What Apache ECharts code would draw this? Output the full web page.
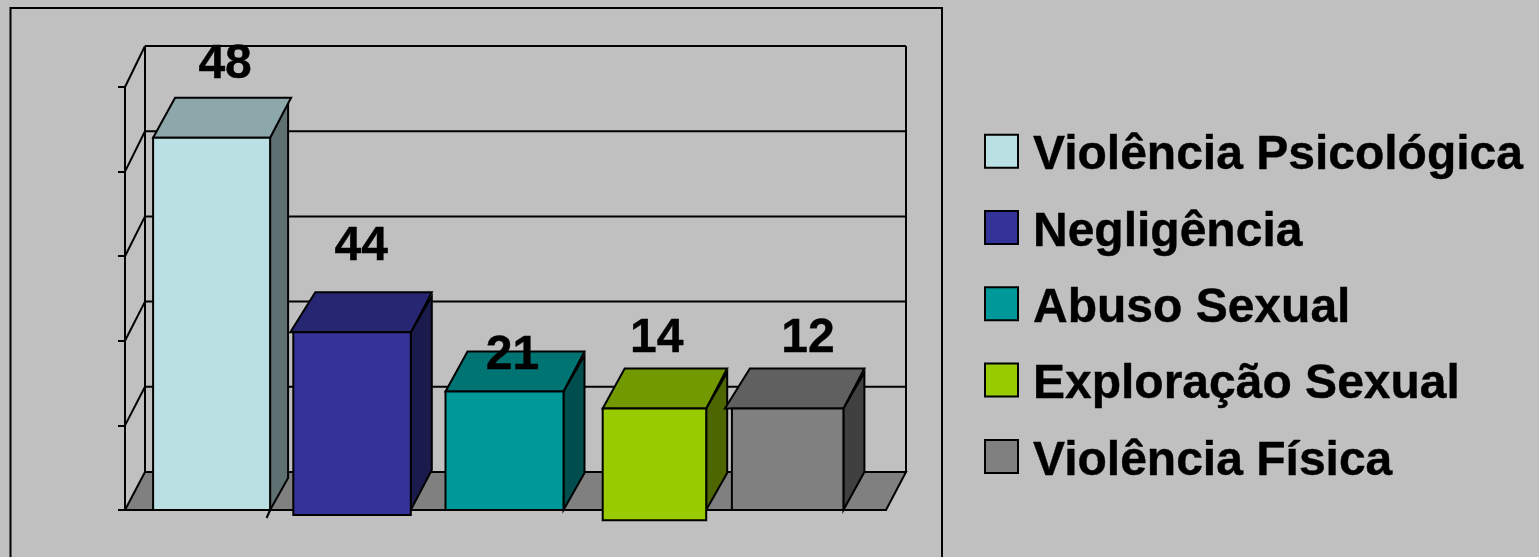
<!DOCTYPE html>
<html><head><meta charset="utf-8">
<style>html,body{margin:0;padding:0;background:#c0c0c0}#c{width:1539px;height:557px}</style>
<script src="https://cdn.jsdelivr.net/npm/echarts@6/dist/echarts.min.js"></script>
</head><body><div id="c"></div>
<script>
// ---- data ----
const categories = ['Violência Psicológica', 'Negligência', 'Abuso Sexual', 'Exploração Sexual', 'Violência Física'];
const dataLabels = [48, 44, 21, 14, 12];          // printed value labels
const barTops    = [44, 21, 14, 12, 12];          // drawn top of each bar on the axis
const barBases   = [0, -0.6, 0, -1.2, 0];         // drawn foot of each bar on the axis
const axisTicks  = [0, 10, 20, 30, 40, 50];

// ---- styling / geometry ----
const frontColors = ['#BBE0E3', '#333399', '#009999', '#99CC00', '#808080'];
const topColors   = ['#8CA8AA', '#262673', '#007373', '#739900', '#606060'];
const sideColors  = ['#5E7072', '#1A1A4D', '#004D4D', '#4D6600', '#404040'];
const spanLeft    = [-48, -60, -60, -55, -78];    // px from band centre
const spanRight   = [69, 57.5, 58, 48.5, 33.5];
const overhang    = [0, 3, 0, 0, 7];              // top-face overhang on the left
const sideDX      = [18, 21, 21, 21, 21];
const sideDrop    = [32, 40, 37, 37, 38];
const labelDX     = [24, 8, 7, -1, -2];
const labelDY     = [-73, -86, -36, -70, -70];
const DEPTH_X = 21, DEPTH_Y = 40, WALL_X = 20;
const INK = '#000';
const FONT = '"Liberation Sans", Arial, sans-serif';

function wallItem(params, api) {
  const v = api.value(1), p = api.coord([0, v]), cs = params.coordSys;
  const left = cs.x, right = cs.x + cs.width;
  const dy = 38 + 3 * v / 50;
  const backY = p[1] - dy;
  const line = { stroke: INK, lineWidth: 2, fill: null };
  const kids = [];
  if (v === 0) {
    kids.push({ type: 'polygon', shape: { points: [[left, p[1]], [left + WALL_X, backY], [right + WALL_X, backY], [right, p[1]]] },
      style: { fill: '#808080', stroke: INK, lineWidth: 2 } });
    kids.push({ type: 'line', shape: { x1: left + WALL_X, y1: backY, x2: left + WALL_X, y2: cs.y - 41 }, style: line });
    kids.push({ type: 'line', shape: { x1: right + WALL_X, y1: backY, x2: right + WALL_X, y2: cs.y - 41 }, style: line });
  } else {
    kids.push({ type: 'line', shape: { x1: left + WALL_X, y1: backY, x2: right + WALL_X, y2: backY }, style: line });
    kids.push({ type: 'line', shape: { x1: left, y1: p[1], x2: left + WALL_X, y2: backY }, style: line });
  }
  return { type: 'group', children: kids };
}

function barItem(i) {
  return function (params, api) {
    const top = api.coord([i, api.value(1)]), foot = api.coord([i, api.value(2)]);
    const cx = top[0], yT = top[1], yB = foot[1];
    const L = cx + spanLeft[i], R = cx + spanRight[i];
    const s = { stroke: INK, lineWidth: 2, lineJoin: 'miter' };
    const sx = R + sideDX[i];
    const zeroY = api.coord([i, 0])[1];
    const footY = Math.min(yB, zeroY);
    const kids = [
      { type: 'polygon', shape: { points: [[R, yT], [sx, yT - DEPTH_Y + 4], [sx, footY - sideDrop[i]], [R, footY]] },
        style: Object.assign({ fill: sideColors[i] }, s) },
      { type: 'polygon', shape: { points: [[L - overhang[i], yT], [L - overhang[i] + DEPTH_X + (overhang[i] ? 4 : 1), yT - DEPTH_Y], [R + DEPTH_X, yT - DEPTH_Y], [R, yT]] },
        style: Object.assign({ fill: topColors[i] }, s) },
      { type: 'rect', shape: { x: L, y: yT, width: R - L, height: yB - yT },
        style: Object.assign({ fill: frontColors[i] }, s) }
    ];
    if (i === 0) kids.push({ type: 'line', shape: { x1: R, y1: footY, x2: R - 3.5, y2: footY + 8 }, style: { stroke: INK, lineWidth: 2 } });
    kids.push({ type: 'text', style: { text: String(dataLabels[i]), x: cx + labelDX[i], y: yT + labelDY[i],
      align: 'center', verticalAlign: 'middle', fill: '#000', stroke: '#000', lineWidth: 0.4,
      font: 'bold 48px ' + FONT }, z2: 50 });
    return { type: 'group', children: kids };
  };
}

const series = [{
  type: 'custom', name: 'wall', silent: true, z: 1, coordinateSystem: 'cartesian2d',
  data: axisTicks.map(t => [0, t]), encode: { x: 0, y: 1 }, renderItem: wallItem
}].concat(categories.map((name, i) => ({
  type: 'custom', name, z: 2 + i, coordinateSystem: 'cartesian2d',
  itemStyle: { color: frontColors[i] },
  data: [[i, barTops[i], barBases[i]]], encode: { x: 0, y: 1 },
  renderItem: barItem(i)
})));

const chart = echarts.init(document.getElementById('c'), null, { renderer: 'canvas' });
chart.setOption({
  animation: false,
  backgroundColor: '#c0c0c0',
  graphic: [{ type: 'polyline', silent: true, z: 0,
    shape: { points: [[10.5, 557], [10.5, 8], [942, 8], [942, 557]] },
    style: { stroke: '#000', lineWidth: 2, fill: null } }],
  grid: { left: 125, top: 87, width: 761, height: 423 },
  xAxis: { type: 'category', data: categories, axisLabel: { show: false }, axisTick: { show: false },
    axisLine: { show: true, onZero: false, lineStyle: { color: '#000', width: 2 } }, splitLine: { show: false } },
  yAxis: { type: 'value', min: 0, max: 50, interval: 10, axisLabel: { show: false },
    axisLine: { show: true, onZero: false, lineStyle: { color: '#000', width: 2 } },
    axisTick: { show: true, length: 7, lineStyle: { color: '#000', width: 2 } }, splitLine: { show: false } },
  legend: {
    orient: 'vertical', left: 979, top: 127, itemWidth: 33, itemHeight: 33, itemGap: 27.9,
    selectedMode: false,
    data: categories.map((name, i) => ({ name, icon: 'rect',
      itemStyle: { color: frontColors[i], borderColor: '#000', borderWidth: 2 } })),
    formatter: n => '{a|' + n + '}',
    textStyle: { color: '#000', fontFamily: FONT, fontWeight: 'bold', fontSize: 48,
      rich: { a: { color: '#000', fontFamily: FONT, fontWeight: 'bold', fontSize: 48, padding: [10, 0, 0, 10],
        textBorderColor: '#000', textBorderWidth: 0.4 } } }
  },
  series
});
</script></body></html>
